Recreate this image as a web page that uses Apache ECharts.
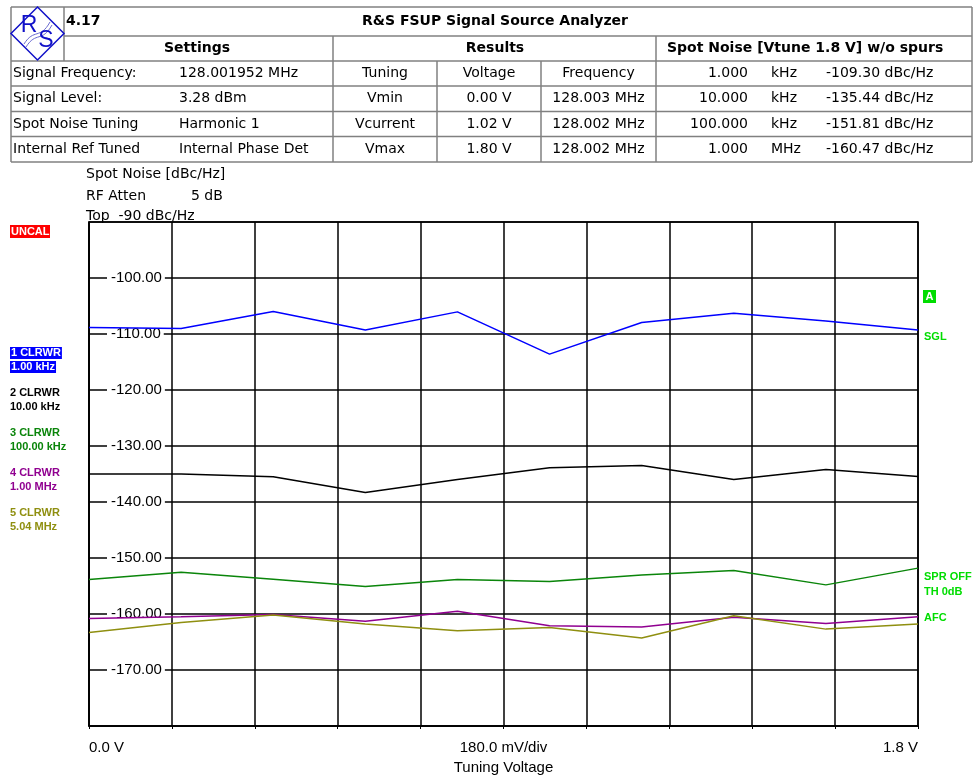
<!DOCTYPE html>
<html>
<head>
<meta charset="utf-8">
<script src="https://cdn.jsdelivr.net/npm/echarts@6/dist/echarts.min.js"></script>
<style>
html,body{margin:0;padding:0;background:#fff;overflow:hidden;}
#chart{width:973px;height:776px;}
</style>
</head>
<body>
<div id="chart"></div>
<script>
// ---- data ----
const voltages = [0, 0.2, 0.4, 0.6, 0.8, 1.0, 1.2, 1.4, 1.6, 1.8];
const trace1k   = [-108.85, -109.0, -106.0, -109.3, -106.05, -113.6, -107.95, -106.3, -107.7, -109.3];
const trace10k  = [-135.0, -135.0, -135.5, -138.3, -136.0, -133.9, -133.5, -136.0, -134.2, -135.44];
const trace100k = [-153.86, -152.55, -153.8, -155.1, -153.86, -154.2, -153.05, -152.25, -154.8, -151.81];
const trace1M   = [-160.8, -160.5, -160.1, -161.3, -159.5, -162.1, -162.3, -160.6, -161.7, -160.47];
const trace5M   = [-163.3, -161.5, -160.2, -161.8, -163.0, -162.4, -164.3, -160.3, -162.7, -161.8];
const traceNames = ['1 CLRWR', '2 CLRWR', '3 CLRWR', '4 CLRWR', '5 CLRWR'];
const traceOffsets = ['1.00 kHz', '10.00 kHz', '100.00 kHz', '1.00 MHz', '5.04 MHz'];
const xTickLabels = ['0.0 V', '180.0 mV/div', '1.8 V'];
const xAxisTitle = 'Tuning Voltage';
const topInfo = ['Spot Noise [dBc/Hz]', 'RF Atten', '5 dB', 'Top  -90 dBc/Hz'];
const rightInfo = ['A', 'SGL', 'SPR OFF', 'TH 0dB', 'AFC'];
const tableTitle = ['4.17', 'R&S FSUP Signal Source Analyzer'];
const tableHeaders = ['Settings', 'Results', 'Spot Noise [Vtune 1.8 V] w/o spurs'];
const tableColSettingName = ['Signal Frequency:', 'Signal Level:', 'Spot Noise Tuning', 'Internal Ref Tuned'];
const tableColSettingValue = ['128.001952 MHz', '3.28 dBm', 'Harmonic 1', 'Internal Phase Det'];
const tableColTuning = ['Tuning', 'Vmin', 'Vcurrent', 'Vmax'];
const tableColVoltage = ['Voltage', '0.00 V', '1.02 V', '1.80 V'];
const tableColFrequency = ['Frequency', '128.003 MHz', '128.002 MHz', '128.002 MHz'];
const tableColOffset = ['1.000', '10.000', '100.000', '1.000'];
const tableColUnit = ['kHz', 'kHz', 'kHz', 'MHz'];
const tableColNoise = ['-109.30 dBc/Hz', '-135.44 dBc/Hz', '-151.81 dBc/Hz', '-160.47 dBc/Hz'];

// ---- styles ----
const traceColors = ['#0000ff', '#000000', '#0a850a', '#900090', '#8f8f10'];
const tFont = '14px "DejaVu Sans", Verdana, sans-serif';
const tBold = 'bold 14px "DejaVu Sans", Verdana, sans-serif';
const aFont = '"Liberation Sans", Arial, sans-serif';
const lblGreen = '#00dd00';
const borderCol = '#808080';

const els = [];
function hl(x1, x2, y, col, w) { els.push({type:'line', silent:true, shape:{x1:x1,y1:y,x2:x2,y2:y}, style:{stroke:col||borderCol, lineWidth:w||1.5}}); }
function vl(x, y1, y2, col, w) { els.push({type:'line', silent:true, shape:{x1:x,y1:y1,x2:x,y2:y2}, style:{stroke:col||borderCol, lineWidth:w||1.5}}); }
function txt(t, x, y, font, fill, align, bg) {
  const st = {text:t, font:font, fill:fill||'#000', textAlign:align||'left', textVerticalAlign:'middle'};
  if (bg) { st.backgroundColor = bg; st.padding = [1, 1, 0, 1]; }
  els.push({type:'text', silent:true, x:x, y:y, style:st});
}

// table geometry
const L = 11, R = 972, T = 7;
const rowB = [36, 61, 86, 111.5, 136.5, 162];
hl(L, R, T); hl(64, R, rowB[0]);
for (let i = 1; i < rowB.length; i++) hl(L, R, rowB[i]);
vl(L, T, rowB[5]); vl(R, T, rowB[5]); vl(64, T, rowB[1]);
vl(333, rowB[0], rowB[5]); vl(656, rowB[0], rowB[5]);
vl(437, rowB[1], rowB[5]); vl(541, rowB[1], rowB[5]);
// logo
els.push({type:'polygon', silent:true, shape:{points:[[37.5,7],[64,33.5],[37.5,60],[11,33.5]]}, style:{fill:'#fff', stroke:'#1010c8', lineWidth:1.5}});
els.push({type:'bezierCurve', silent:true, shape:{x1:24,y1:44,x2:50,y2:22,cpx1:34,cpy1:28,cpx2:40,cpy2:40}, style:{stroke:'#6a6ad0', lineWidth:1, fill:null}});
els.push({type:'bezierCurve', silent:true, shape:{x1:26,y1:47,x2:52,y2:25,cpx1:36,cpy1:31,cpx2:42,cpy2:43}, style:{stroke:'#6a6ad0', lineWidth:1, fill:null}});
txt('R', 29, 26, '23px "Liberation Sans", Arial, sans-serif', '#1010c8', 'center');
txt('S', 46, 41, '23px "Liberation Sans", Arial, sans-serif', '#1010c8', 'center');
// title row
txt(tableTitle[0], 66, 21.5, tBold, '#000', 'left');
txt(tableTitle[1], 495, 21.5, tBold, '#000', 'center');
txt(tableHeaders[0], 197, 48.5, tBold, '#000', 'center');
txt(tableHeaders[1], 495, 48.5, tBold, '#000', 'center');
txt(tableHeaders[2], 667, 48.5, tBold, '#000', 'left');
for (let r = 0; r < 4; r++) {
  const y = (rowB[r + 1] + rowB[r + 2]) / 2;
  txt(tableColSettingName[r], 13, y, tFont, '#000', 'left');
  txt(tableColSettingValue[r], 179, y, tFont, '#000', 'left');
  txt(tableColTuning[r], 385, y, tFont, '#000', 'center');
  txt(tableColVoltage[r], 489, y, tFont, '#000', 'center');
  txt(tableColFrequency[r], 598.5, y, tFont, '#000', 'center');
  txt(tableColOffset[r], 748, y, tFont, '#000', 'right');
  txt(tableColUnit[r], 771, y, tFont, '#000', 'left');
  txt(tableColNoise[r], 826, y, tFont, '#000', 'left');
}
// top info above plot
txt(topInfo[0], 86, 174, tFont, '#000', 'left');
txt(topInfo[1], 86, 196, tFont, '#000', 'left');
txt(topInfo[2], 191, 196, tFont, '#000', 'left');
txt(topInfo[3], 86, 216, tFont, '#000', 'left');
// left status labels
els.push({type:'rect', silent:true, shape:{x:10, y:225, width:40, height:13}, style:{fill:'#ff0000'}});
txt('UNCAL', 11, 231.5, 'bold 11px ' + aFont, '#fff', 'left');
const legendY = [353, 393, 433, 473, 513];
for (let i = 0; i < 5; i++) {
  const c = i === 0 ? '#ffffff' : traceColors[i];
  const bg = i === 0 ? '#0000ff' : null;
  txt(traceNames[i], 10, legendY[i], 'bold 11px ' + aFont, c, 'left', bg);
  txt(traceOffsets[i], 10, legendY[i] + 14, 'bold 11px ' + aFont, c, 'left', bg);
}
// right labels
els.push({type:'rect', silent:true, shape:{x:923, y:290, width:13, height:13}, style:{fill:'#00dd00'}});
txt(rightInfo[0], 929.5, 296.5, 'bold 11px ' + aFont, '#fff', 'center');
txt(rightInfo[1], 924, 337, 'bold 11px ' + aFont, lblGreen, 'left');
txt(rightInfo[2], 924, 577, 'bold 11px ' + aFont, lblGreen, 'left');
txt(rightInfo[3], 924, 592, 'bold 11px ' + aFont, lblGreen, 'left');
txt(rightInfo[4], 924, 618, 'bold 11px ' + aFont, lblGreen, 'left');

const seriesData = [trace1k, trace10k, trace100k, trace1M, trace5M];
const series = seriesData.map((arr, i) => ({
  name: traceNames[i],
  type: 'line',
  data: voltages.map((v, k) => [v, arr[k]]),
  showSymbol: false,
  symbol: 'none',
  lineStyle: {color: traceColors[i], width: 1.5},
  itemStyle: {color: traceColors[i]},
  z: 5 + i,
  animation: false
}));

const chart = echarts.init(document.getElementById('chart'), null, {renderer: 'canvas', width: 973, height: 776});
chart.setOption({
  backgroundColor: '#ffffff',
  animation: false,
  grid: {left: 89, width: 829, top: 222, height: 504, containLabel: false, outerBoundsMode: 'none',
         show: true, borderColor: '#000', borderWidth: 1.5, backgroundColor: 'transparent'},
  xAxis: {
    type: 'value', min: 0, max: 1.8, interval: 0.18,
    name: xAxisTitle, nameLocation: 'middle', nameGap: 33,
    nameTextStyle: {fontFamily: aFont, fontSize: 15, color: '#000'},
    axisLine: {show: true, lineStyle: {color: '#000', width: 1.5}},
    axisTick: {show: true, length: 3, lineStyle: {color: '#000'}},
    splitLine: {show: true, lineStyle: {color: '#000', width: 1.5}},
    axisLabel: {
      margin: 14, fontFamily: aFont, fontSize: 15, color: '#000',
      alignMinLabel: 'left', alignMaxLabel: 'right',
      formatter: function (v) {
        if (Math.abs(v) < 1e-6) return xTickLabels[0];
        if (Math.abs(v - 0.9) < 1e-6) return xTickLabels[1];
        if (Math.abs(v - 1.8) < 1e-6) return xTickLabels[2];
        return '';
      }
    }
  },
  yAxis: {
    type: 'value', min: -180, max: -90, interval: 10,
    axisLine: {show: true, lineStyle: {color: '#000', width: 1.5}},
    axisTick: {show: false},
    splitLine: {show: true, lineStyle: {color: '#000', width: 1.5}},
    axisLabel: {
      inside: true, margin: 18, fontFamily: aFont, fontSize: 15, color: '#000',
      backgroundColor: '#fff', padding: [0, 3, 0, 4],
      showMinLabel: false, showMaxLabel: false,
      formatter: function (v) { return (v <= -100 && v >= -170) ? v.toFixed(2) : ''; }
    }
  },
  series: series,
  graphic: {elements: els}
});
</script>
</body>
</html>
